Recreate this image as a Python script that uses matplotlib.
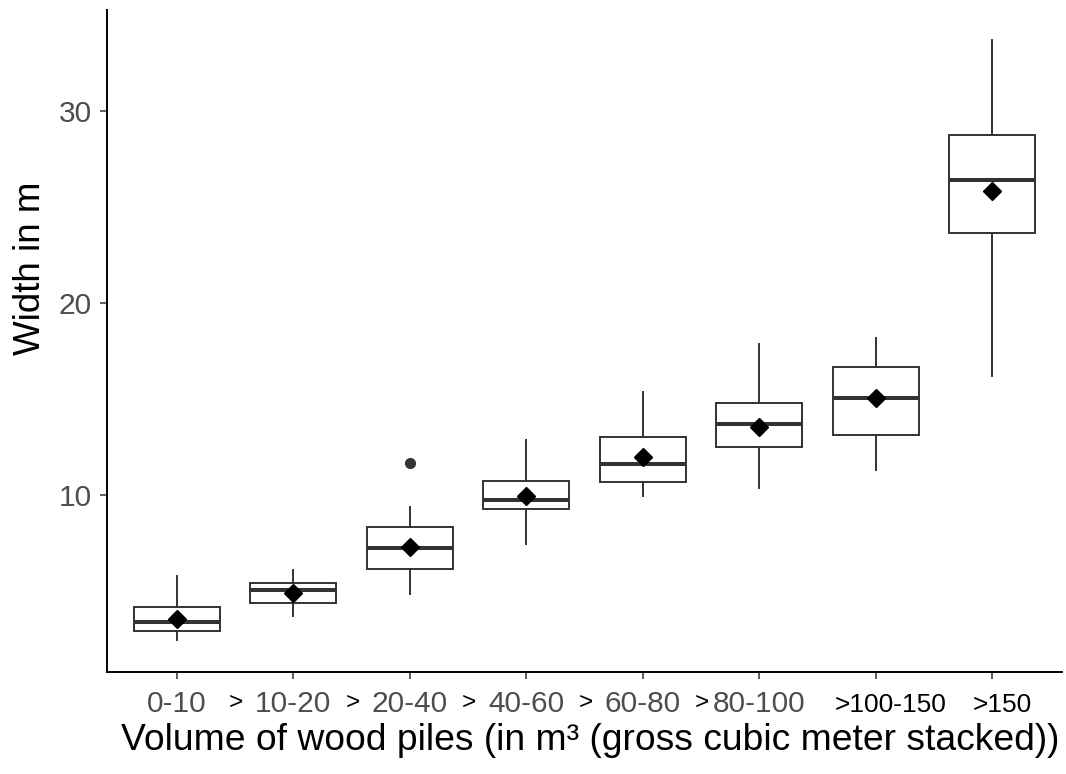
import numpy as np
import matplotlib.pyplot as plt

plt.rcParams['font.family'] = ['Liberation Sans', 'DejaVu Sans']

# --- data (width in m per volume class) ---
categories = ['0-10', '10-20', '20-40', '40-60', '60-80', '80-100', '100-150', '150']
tick_labels = ['0-10', '10-20', '20-40', '40-60', '60-80', '80-100', '', '']
extra_labels = ['>100-150', '>150']

whisker_low = [2.45, 3.70, 4.84, 7.45, 9.95, 10.36, 11.30, 16.20]
q1 = [2.88, 4.36, 6.15, 9.27, 10.68, 12.50, 13.13, 23.65]
median = [3.37, 5.02, 7.24, 9.74, 11.61, 13.70, 15.05, 26.40]
q3 = [4.15, 5.40, 8.33, 10.73, 13.02, 14.79, 16.67, 28.75]
whisker_high = [5.75, 6.06, 9.38, 12.83, 15.36, 17.86, 18.18, 33.70]
means = [3.53, 4.90, 7.29, 9.95, 11.98, 13.54, 15.05, 25.83]
outliers = [[], [], [11.67], [], [], [], [], []]

W, H = 1066, 774
fig = plt.figure(figsize=(W / 100, H / 100), dpi=100)
# axes box in pixels: x 107..1062, y 10..672
ax = fig.add_axes([107 / W, 1 - 672 / H, (1062 - 107) / W, (672 - 10) / H])

stats = []
for i in range(len(categories)):
    stats.append({'label': categories[i], 'whislo': whisker_low[i], 'q1': q1[i],
                  'med': median[i], 'q3': q3[i], 'whishi': whisker_high[i],
                  'fliers': outliers[i]})

positions = np.arange(len(categories))
edge = '#333333'
ax.bxp(stats, positions=positions, widths=0.74, showcaps=False, patch_artist=True,
       boxprops=dict(facecolor='white', edgecolor=edge, linewidth=1.4),
       medianprops=dict(color=edge, linewidth=2.9, solid_capstyle='butt'),
       whiskerprops=dict(color=edge, linewidth=1.4),
       flierprops=dict(marker='o', markerfacecolor=edge, markeredgecolor=edge, markersize=7))

# mean as black diamond
ax.plot(positions, means, linestyle='none', marker='D', color='black', markersize=9.5, zorder=5)

ax.set_xlim(-0.6, len(categories) - 0.4)
ax.set_ylim(0.77, 35.25)
ax.set_yticks([10, 20, 30])
ax.set_xticks(positions, tick_labels)

for s in ['top', 'right']:
    ax.spines[s].set_visible(False)
for s in ['left', 'bottom']:
    ax.spines[s].set_color('black')
    ax.spines[s].set_linewidth(1.4)

ax.tick_params(axis='both', length=5, width=1.1, color=edge, labelcolor='#4d4d4d', labelsize=21.5)
ax.tick_params(axis='y', pad=6)
ax.tick_params(axis='x', pad=8)

# the ">" signs and last two labels were added on top of the axis labels
trans = ax.get_xaxis_transform()
y_base = -(712 - 672) / 662
y_gt = -(709 - 672) / 662
for i in range(1, 6):
    ax.text(i - 0.49, y_gt, '>', transform=trans, ha='center', va='baseline',
            fontsize=17.5, color='black')
ax.text(6.13, y_base, extra_labels[0], transform=trans, ha='center', va='baseline',
        fontsize=19, color='black')
ax.text(7.09, y_base, extra_labels[1], transform=trans, ha='center', va='baseline',
        fontsize=19, color='black')

ax.set_xlabel('Volume of wood piles (in m³ (gross cubic meter stacked))', fontsize=26.8, color='black')
ax.xaxis.label.set_va('center')
ax.xaxis.set_label_coords((590 - 107) / 955, -(741 - 672) / 662)

ax.set_ylabel('Width in m', fontsize=26.5, color='black')
ax.yaxis.label.set_va('center')
ax.yaxis.set_label_coords((31 - 107) / 955, (672 - 268) / 662)

fig.savefig('out.png', dpi=100, facecolor='white')
